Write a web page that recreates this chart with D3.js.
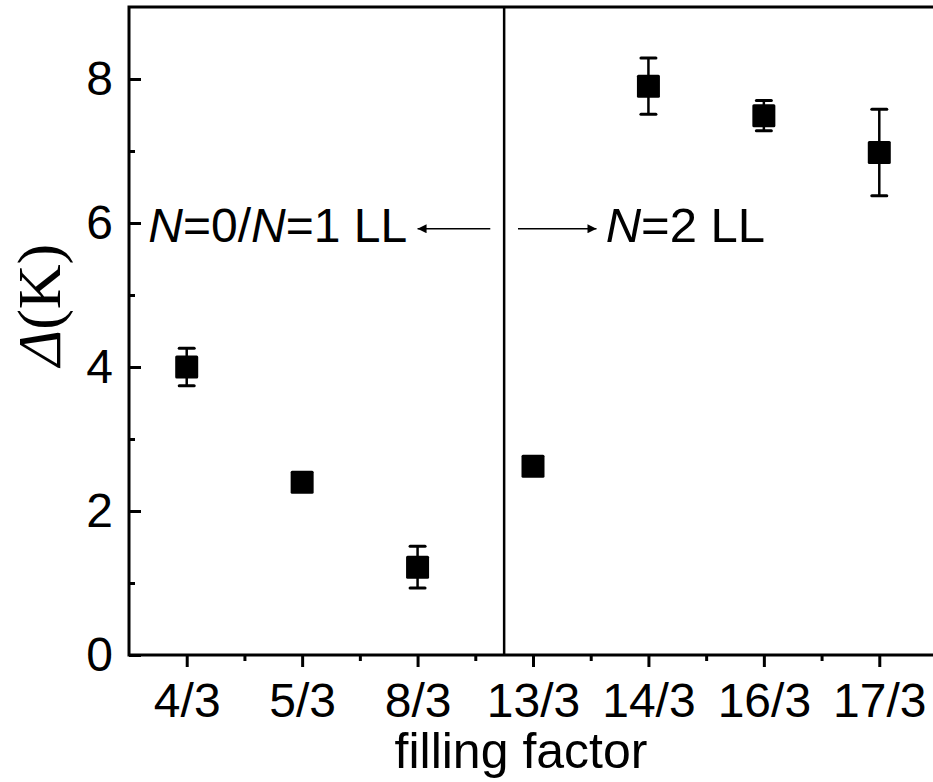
<!DOCTYPE html>
<html>
<head>
<meta charset="utf-8">
<script src="https://cdn.jsdelivr.net/npm/d3@7"></script>
<style>
  html, body { margin: 0; padding: 0; background: #fff; }
  svg { display: block; }
  text { font-family: "Liberation Sans", Arial, sans-serif; fill: #000; }
</style>
</head>
<body>
<script>
// ---- data ----
const categories = ["4/3", "5/3", "8/3", "13/3", "14/3", "16/3", "17/3"];
const gapValues  = [4.00, 2.40, 1.22, 2.62, 7.90, 7.49, 6.98];
const gapErrors  = [0.26, 0.05, 0.29, 0.06, 0.39, 0.21, 0.60];
const yTicks = [0, 2, 4, 6, 8];
const yMinorTicks = [1, 3, 5, 7];
const dividerPos = 3.75;   // boundary between N=0/1 and N=2 LL (category index units)

const W = 933, H = 782;
const mLeft = 129, mRight = 937, mTop = 7, mBottom = 655;

const svg = d3.select("body").append("svg").attr("width", W).attr("height", H);

const x = d3.scaleLinear().domain([0.5, 7.5]).range([mLeft, mRight]);
const y = d3.scaleLinear().domain([0, 9]).range([mBottom, mTop]);

// frame
svg.append("rect").attr("x", mLeft).attr("y", mTop)
  .attr("width", mRight - mLeft).attr("height", mBottom - mTop)
  .attr("fill", "none").attr("stroke", "#000").attr("stroke-width", 3);

// x axis (ticks outward)
const xAxis = d3.axisBottom(x)
  .tickValues(d3.range(1, categories.length + 1))
  .tickFormat(d => categories[d - 1])
  .tickSize(12).tickPadding(16);
const gx = svg.append("g").attr("transform", `translate(0,${mBottom})`).call(xAxis);
gx.select(".domain").remove();
gx.selectAll(".tick line").attr("stroke-width", 3);
gx.selectAll(".tick text").attr("font-size", 48).attr("dy", "0.71em")
  .attr("font-family", "Liberation Sans, Arial, sans-serif");
const gxm = svg.append("g").attr("transform", `translate(0,${mBottom})`)
  .call(d3.axisBottom(x).tickValues(d3.range(1.5, categories.length, 1)).tickSize(6).tickFormat(""));
gxm.select(".domain").remove();
gxm.selectAll(".tick line").attr("stroke-width", 3);

// y axis (ticks inward)
const yAxis = d3.axisLeft(y).tickValues(yTicks).tickSize(-12).tickPadding(16);
const gy = svg.append("g").attr("transform", `translate(${mLeft},0)`).call(yAxis);
gy.select(".domain").remove();
gy.selectAll(".tick line").attr("stroke-width", 3);
gy.selectAll(".tick text").attr("font-size", 48)
  .attr("font-family", "Liberation Sans, Arial, sans-serif");
const gym = svg.append("g").attr("transform", `translate(${mLeft},0)`)
  .call(d3.axisLeft(y).tickValues(yMinorTicks).tickSize(-6).tickFormat(""));
gym.select(".domain").remove();
gym.selectAll(".tick line").attr("stroke-width", 3);

// divider line
svg.append("line")
  .attr("x1", x(dividerPos)).attr("x2", x(dividerPos))
  .attr("y1", y(9)).attr("y2", y(0))
  .attr("stroke", "#000").attr("stroke-width", 2.5);

// error bars
const pts = categories.map((c, i) => ({ i: i + 1, v: gapValues[i], e: gapErrors[i] }));
const eb = svg.append("g");
eb.selectAll("line.v").data(pts).join("line")
  .attr("x1", d => x(d.i)).attr("x2", d => x(d.i))
  .attr("y1", d => y(d.v + d.e)).attr("y2", d => y(d.v - d.e))
  .attr("stroke", "#000").attr("stroke-width", 2.5);
[1, -1].forEach(s => {
  eb.append("g").selectAll("line").data(pts).join("line")
    .attr("x1", d => x(d.i) - 7.5).attr("x2", d => x(d.i) + 7.5)
    .attr("y1", d => y(d.v + s * d.e))
    .attr("y2", d => y(d.v + s * d.e))
    .attr("stroke", "#000").attr("stroke-width", 3).attr("stroke-linecap", "round");
});

// markers
const ms = 23;
svg.append("g").selectAll("rect").data(pts).join("rect")
  .attr("x", d => x(d.i) - ms / 2).attr("y", d => y(d.v) - ms / 2)
  .attr("width", ms).attr("height", ms).attr("rx", 1.5)
  .attr("fill", "#000");

// annotations
const defs = svg.append("defs");
defs.append("marker").attr("id", "ah").attr("viewBox", "0 0 10 10")
  .attr("refX", 10).attr("refY", 5).attr("markerWidth", 15).attr("markerHeight", 9)
  .attr("markerUnits", "userSpaceOnUse").attr("orient", "auto")
  .append("path").attr("d", "M0,0 L10,5 L0,10 z").attr("fill", "#000");

const annY = 5.92;
svg.append("line").attr("x1", x(3.63)).attr("x2", x(3.0))
  .attr("y1", y(annY)).attr("y2", y(annY))
  .attr("stroke", "#000").attr("stroke-width", 1.3).attr("marker-end", "url(#ah)");
svg.append("line").attr("x1", x(3.87)).attr("x2", x(4.55))
  .attr("y1", y(annY)).attr("y2", y(annY))
  .attr("stroke", "#000").attr("stroke-width", 1.3).attr("marker-end", "url(#ah)");

const t1 = svg.append("text").attr("x", x(2.91)).attr("y", y(5.73))
  .attr("text-anchor", "end").attr("font-size", 48);
t1.append("tspan").attr("font-style", "italic").text("N");
t1.append("tspan").text("=0/");
t1.append("tspan").attr("font-style", "italic").text("N");
t1.append("tspan").text("=1 LL");

const t2 = svg.append("text").attr("x", x(4.63)).attr("y", y(5.73))
  .attr("text-anchor", "start").attr("font-size", 49);
t2.append("tspan").attr("font-style", "italic").text("N");
t2.append("tspan").text("=2 LL");

// axis titles
svg.append("text").attr("x", 521).attr("y", 768)
  .attr("text-anchor", "middle").attr("font-size", 50).text("filling factor");

const yl = svg.append("text")
  .attr("transform", `translate(60,305) rotate(-90)`)
  .attr("text-anchor", "middle")
  .style("font-family", "'Liberation Serif', 'Times New Roman', serif")
  .attr("font-size", 62);
yl.append("tspan").attr("font-style", "italic").text("Δ");
yl.append("tspan").text("(K)");
</script>
</body>
</html>
